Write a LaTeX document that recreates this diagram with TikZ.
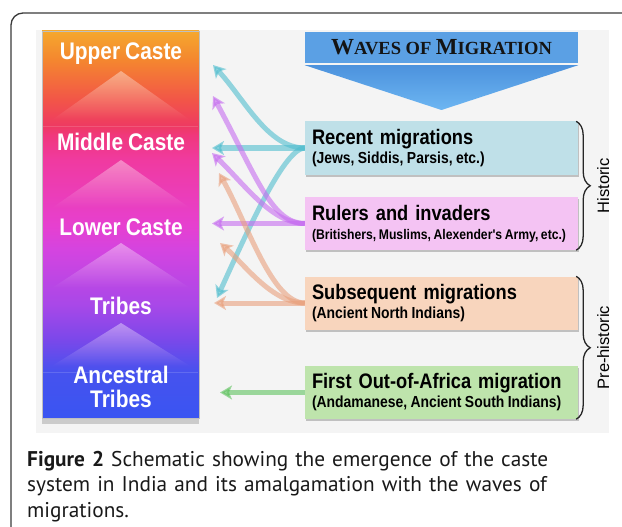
\documentclass[tikz,border=0pt]{standalone}
\usepackage{fontspec}
\newfontfamily\condfont{Liberation Sans}[FakeStretch=0.87]
\newfontfamily\plainfont{Liberation Sans}
\newfontfamily\headfont{Liberation Serif}
\newfontfamily\capfont{PT Sans}
\usetikzlibrary{arrows.meta, decorations.pathreplacing, shadows, fadings}

\definecolor{panel}{HTML}{F4F4F4}
\definecolor{frame}{HTML}{3A3A3A}
\definecolor{headblue}{HTML}{5BA0E4}
\definecolor{triTop}{HTML}{4C92DD}
\definecolor{triBot}{HTML}{6DB6F2}
\definecolor{recentcol}{HTML}{BFE0E8}
\definecolor{rulerscol}{HTML}{F4C3F3}
\definecolor{subseqcol}{HTML}{F8D5BD}
\definecolor{firstcol}{HTML}{BEE4AC}
\definecolor{tealmig}{HTML}{4FBDCE}
\definecolor{violetmig}{HTML}{C66CF0}
\definecolor{peachmig}{HTML}{E9A07C}
\definecolor{greenmig}{HTML}{5EC25E}
% caste column, bottom to top
\definecolor{cA}{HTML}{3A55F2}
\definecolor{cB}{HTML}{4652EE}
\definecolor{cC}{HTML}{7A48EA}
\definecolor{cD}{HTML}{A848E8}
\definecolor{cE}{HTML}{D444E0}
\definecolor{cF}{HTML}{E640D0}
\definecolor{cG}{HTML}{F03AA0}
\definecolor{cH}{HTML}{F0387C}
\definecolor{cI}{HTML}{EE3A62}
\definecolor{cJ}{HTML}{F25548}
\definecolor{cK}{HTML}{F4862F}
\definecolor{cL}{HTML}{F5A82E}
\pgfdeclareverticalshading{castes}{100bp}{color(0bp)=(cA); color(25bp)=(cA);
  color(30.94bp)=(cB); color(35.08bp)=(cC); color(39.6bp)=(cD);
  color(46.71bp)=(cE); color(49.81bp)=(cF); color(58.33bp)=(cG);
  color(61.56bp)=(cH); color(62.73bp)=(cI); color(66.09bp)=(cJ);
  color(71.25bp)=(cK); color(75bp)=(cL); color(100bp)=(cL)}

\begin{document}
\begin{tikzpicture}[
    x=1pt, y=-1pt,
    castecol/.style={minimum width=157pt, minimum height=387pt, inner sep=0pt,
      shading=castes, draw=black!25, line width=0.8pt,
      drop shadow={opacity=0.35, shadow xshift=0pt, shadow yshift=-6pt}},
    caste/.style={text=white, align=center, inner sep=0pt,
      font=\condfont\bfseries\fontsize{24}{24}\selectfont\spaceskip 5pt\relax},
    wave/.style={minimum width=273pt, minimum height=53pt, text width=259pt,
      inner xsep=7pt, inner ysep=0pt, align=left,
      font=\condfont\bfseries\fontsize{21}{19}\selectfont\spaceskip 4.4pt\relax,
      drop shadow={opacity=0.25, shadow xshift=1pt, shadow yshift=-2pt}},
    mig/.style={line width=5pt, opacity=0.6,
      -{Stealth[length=12pt, width=14pt, inset=3pt]}},
    era/.style={decorate, decoration={brace, amplitude=14pt},
      line width=1.3pt, draw=black!85},
    eralabel/.style={rotate=90, font=\plainfont\fontsize{16.5}{16.5}\selectfont}
]
  \useasboundingbox (0,0) rectangle (622,527);

  % frame and panel
  \draw[line width=1.3pt, frame, rounded corners=12pt] (650,13) -- (11,13) -- (11,560);
  \fill[panel] (36,30) rectangle (609,433);

  % caste column
  \node[castecol] (col) at (120.5,224.5) {};
  \foreach \apex/\base in {71/120, 160/208, 243/288, 323/366}
    \fill[white, opacity=0.4, path fading=south] (121,\apex) -- (190,\base) -- (52,\base) -- cycle;
  \draw[white, opacity=0.15, line width=0.8pt] (43,126) -- (198,126);
  \draw[white, opacity=0.15, line width=0.8pt] (43,372) -- (198,372);

  \node[caste] (upper)     at (121,54)  {Upper Caste};
  \node[caste] (middle)    at (121,142) {Middle Caste};
  \node[caste] (lower)     at (121,227) {Lower Caste};
  \node[caste] (tribes)    at (121,306) {Tribes};
  \node[caste] (ancestral) at (121,387) {Ancestral\\Tribes};

  % waves of migration header
  \node[fill=headblue, minimum width=273pt, minimum height=31pt, inner sep=0pt,
    font=\headfont\bfseries, text=black!92] (head) at (441.5,47.5)
    {\fontsize{23}{23}\selectfont W\fontsize{18.5}{23}\selectfont AVES OF
     \fontsize{23}{23}\selectfont M\fontsize{18.5}{23}\selectfont IGRATION};
  \coordinate (apex) at (441.5,110);
  \shade[top color=triTop, bottom color=triBot]
    ([yshift=-2pt]head.south west) -- ([yshift=-2pt]head.south east) -- (apex) -- cycle;

  % arrow ends
  \coordinate (recUp)    at (213,65);
  \coordinate (recMid)   at (212,148);
  \coordinate (recTri)   at (217,298);
  \coordinate (rulUp)    at (213,96);
  \coordinate (rulMid)   at (212,153);
  \coordinate (rulLow)   at (212,223.5);
  \coordinate (subMid)   at (219,173);
  \coordinate (subLow)   at (220,243);
  \coordinate (subTri)   at (214,303);
  \coordinate (firstAnc) at (220,392.5);

  \node[wave] (recent)     at (441.5,148)   {};
  \node[wave] (rulers)     at (441.5,223.5) {};
  \node[wave] (subsequent) at (441.5,303)   {};
  \node[wave] (first)      at (441.5,392.5) {};

  % migrations into the castes
  \draw[mig, tealmig] (recent.west) .. controls (268,148) and (245,100) .. (recUp);
  \draw[mig, tealmig] (recent.west) -- (recMid);
  \draw[mig, tealmig] (recent.west) .. controls (285,148) and (250,225) .. (recTri);

  \draw[mig, violetmig] (rulers.west) .. controls (272,223.5) and (257,178) .. (rulUp);
  \draw[mig, violetmig] (rulers.west) .. controls (272,223.5) and (245,185) .. (rulMid);
  \draw[mig, violetmig] (rulers.west) -- (rulLow);

  \draw[mig, peachmig] (subsequent.west) .. controls (272,303) and (248,225) .. (subMid);
  \draw[mig, peachmig] (subsequent.west) .. controls (272,303) and (245,265) .. (subLow);
  \draw[mig, peachmig] (subsequent.west) -- (subTri);

  \draw[mig, greenmig] (first.west) -- (firstAnc);

  % boxes drawn over the arrow starts
  \node[wave, fill=recentcol] at (recent) {Recent migrations\\
    {\fontsize{16}{19}\selectfont\spaceskip 3.4pt\relax (Jews, Siddis, Parsis, etc.)}};
  \node[wave, fill=rulerscol] at (rulers) {Rulers and invaders\\
    \mbox{\fontsize{14}{19}\selectfont\spaceskip 2.6pt\relax (Britishers, Muslims, Alexender's Army, etc.)}};
  \node[wave, fill=subseqcol] at (subsequent) {Subsequent migrations\\
    {\fontsize{16}{19}\selectfont\spaceskip 3.4pt\relax (Ancient North Indians)}};
  \node[wave, fill=firstcol] at (first) {First Out-of-Africa migration\\
    {\fontsize{16}{19}\selectfont\spaceskip 3.4pt\relax (Andamanese, Ancient South Indians)}};

  % eras
  \draw[era] ([xshift=-2pt]recent.north east) -- ([xshift=-2pt]rulers.south east)
    node[midway, xshift=27pt, eralabel] {Historic};
  \draw[era] ([xshift=-2pt]subsequent.north east) -- ([xshift=-2pt]first.south east)
    node[midway, xshift=27pt, eralabel] {Pre-historic};

  % caption
  \node[anchor=north west, inner sep=0pt, text width=600pt, align=left,
    font=\capfont\fontsize{21.3}{25.5}\selectfont, text=black!90] (caption) at (27,451)
    {\textbf{Figure 2} Schematic showing the emergence of the caste\\
     system in India and its amalgamation with the waves of\\
     migrations.};
\end{tikzpicture}
\end{document}
